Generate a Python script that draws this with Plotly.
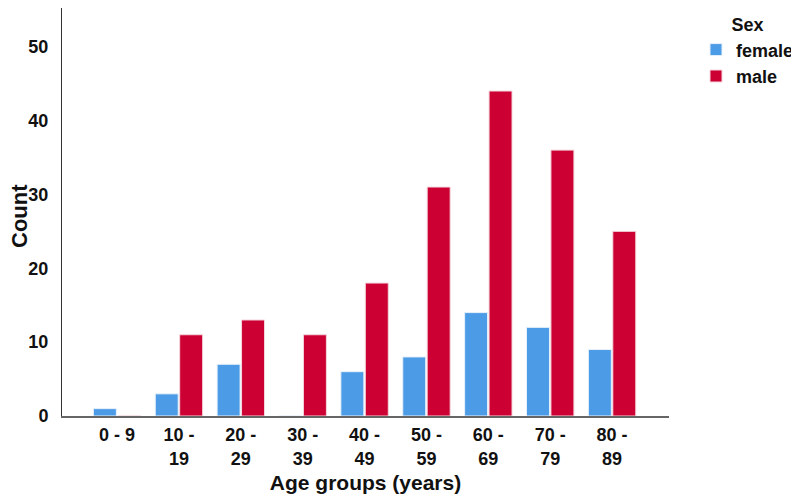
import plotly.graph_objects as go

age_groups = ["0 - 9", "10 -<br>19", "20 -<br>29", "30 -<br>39", "40 -<br>49",
              "50 -<br>59", "60 -<br>69", "70 -<br>79", "80 -<br>89"]
female_counts = [1, 3, 7, 0, 6, 8, 14, 12, 9]
male_counts = [0, 11, 13, 11, 18, 31, 44, 36, 25]
y_ticks = [0, 10, 20, 30, 40, 50]

FONT = "Liberation Sans, Arial, sans-serif"
idx = list(range(len(age_groups)))

fig = go.Figure()
fig.add_trace(go.Bar(
    name="<b>female</b>", x=idx, y=female_counts,
    marker=dict(color="#4c9be6", line=dict(color="#e8f1fb", width=1)),
))
fig.add_trace(go.Bar(
    name="<b>male</b>", x=idx, y=male_counts,
    marker=dict(color="#cc0033", line=dict(color="#f4d6dd", width=1)),
))

# page body adds 8px offset, so the figure is sized to fit the 799x497 window
fig.update_layout(
    width=791, height=489,
    margin=dict(l=54, r=121, t=0, b=81),
    paper_bgcolor="white", plot_bgcolor="white",
    barmode="group", bargap=0.21, bargroupgap=0.06,
    font=dict(family=FONT, color="#111111"),
    legend=dict(
        x=1.045, y=1.0, xanchor="left", yanchor="top",
        title=dict(text="<b>Sex</b>", side="top center", font=dict(size=18)),
        font=dict(size=18), tracegroupgap=0,
    ),
    xaxis=dict(
        tickmode="array", tickvals=idx,
        ticktext=[f"<b>{t}</b>" for t in age_groups],
        tickfont=dict(size=18), range=[-0.89, 8.92],
        showline=True, linecolor="#666666", linewidth=1.5,
        showgrid=False, zeroline=False, ticks="", ticklabelstandoff=2,
        title=dict(text="<b>Age groups (years)</b>", font=dict(size=21), standoff=8),
        automargin=False,
    ),
    yaxis=dict(
        range=[0, 55.24], tickmode="array", tickvals=y_ticks,
        ticktext=[f"<b>{v}</b>" for v in y_ticks],
        tickfont=dict(size=18),
        showline=True, linecolor="#333333", linewidth=1,
        showgrid=False, zeroline=False, ticks="", ticklabelstandoff=9,
        automargin=False,
    ),
    annotations=[dict(
        text="<b>Count</b>", textangle=-90, font=dict(size=22),
        xref="paper", yref="paper", x=-0.071, y=0.49,
        xanchor="center", yanchor="middle", showarrow=False,
    )],
)

fig.write_html("out.html")
